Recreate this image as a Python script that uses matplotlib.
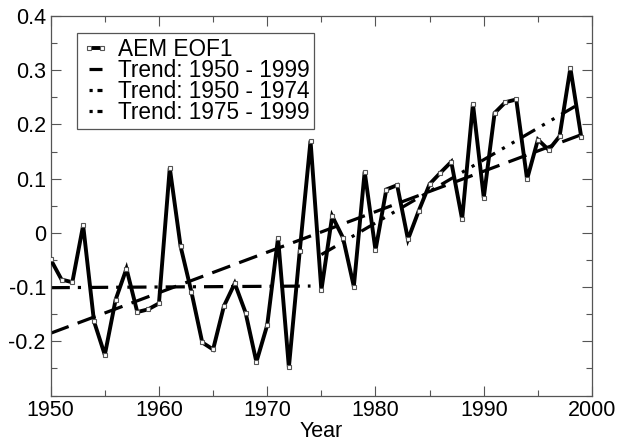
import numpy as np
import matplotlib.pyplot as plt
from matplotlib.ticker import MultipleLocator

plt.rcParams['font.family'] = ['Liberation Sans', 'DejaVu Sans']

years = np.arange(1950, 2000)
eof1 = [-0.049, -0.086, -0.091, 0.014, -0.163, -0.225, -0.123, -0.066, -0.146, -0.141,
        -0.130, 0.120, -0.025, -0.109, -0.202, -0.215, -0.135, -0.093, -0.147, -0.238,
        -0.170, -0.009, -0.248, -0.034, 0.170, -0.106, 0.031, -0.009, -0.099, 0.113,
        -0.032, 0.080, 0.088, -0.012, 0.041, 0.090, 0.111, 0.131, 0.025, 0.238,
        0.065, 0.221, 0.241, 0.246, 0.099, 0.172, 0.153, 0.178, 0.304, 0.177]

# trend line end points
trend_all_x = [1950, 1999]
trend_all_y = [-0.185, 0.181]
trend_early_x = [1950, 1974]
trend_early_y = [-0.101, -0.098]
trend_late_x = [1975, 1999]
trend_late_y = [-0.040, 0.240]

fig = plt.figure(figsize=(6.18, 4.43), dpi=100)
ax = fig.add_axes([0.082, 0.107, 0.876, 0.857])

ax.plot(years, eof1, color='black', lw=2.8, marker='s', ms=3.5, mfc='white',
        mec='#555555', mew=0.8, solid_joinstyle='miter', label='AEM EOF1', zorder=3)
ax.plot(trend_all_x, trend_all_y, color='black', lw=2.3, dashes=(6, 3),
        label='Trend: 1950 - 1999')
ax.plot(trend_early_x, trend_early_y, color='black', lw=2.3, dashes=(6, 2.5, 1, 2.5),
        label='Trend: 1950 - 1974')
ax.plot(trend_late_x, trend_late_y, color='black', lw=2.3, dashes=(5, 2.5, 1, 2.5, 1, 2.5),
        label='Trend: 1975 - 1999')

ax.set_xlim(1950, 2000)
ax.set_ylim(-0.3, 0.4)
ax.xaxis.set_major_locator(MultipleLocator(10))
ax.xaxis.set_minor_locator(MultipleLocator(5))
ax.yaxis.set_minor_locator(MultipleLocator(0.05))
ax.set_yticks(np.arange(-0.2, 0.41, 0.1))
ax.set_yticklabels(['-0.2', '-0.1', '0', '0.1', '0.2', '0.3', '0.4'])
ax.tick_params(which='both', direction='in', top=True, right=True, labelsize=15.5,
               color='#555555', width=0.8)
ax.tick_params(which='major', length=7)
ax.tick_params(which='minor', length=4)
for s in ax.spines.values():
    s.set_color('#555555')
    s.set_linewidth(0.9)
ax.set_xlabel('Year', fontsize=15.5, labelpad=0)

leg = ax.legend(loc='upper left', bbox_to_anchor=(0.049, 0.955), fontsize=16.3,
                handlelength=1.2, handletextpad=0.4, borderpad=0.2, labelspacing=-0.08,
                borderaxespad=0, fancybox=False, framealpha=1, numpoints=2)
leg.get_frame().set_edgecolor('#555555')
leg.get_frame().set_linewidth(0.9)
# short legend samples show "dot dash", like the original
leg.get_lines()[2].set_linestyle((0, (1, 1.5, 3, 1.5)))
leg.get_lines()[3].set_linestyle((0, (1, 1.5, 3, 1.5)))

fig.savefig('out.png', dpi=100)
